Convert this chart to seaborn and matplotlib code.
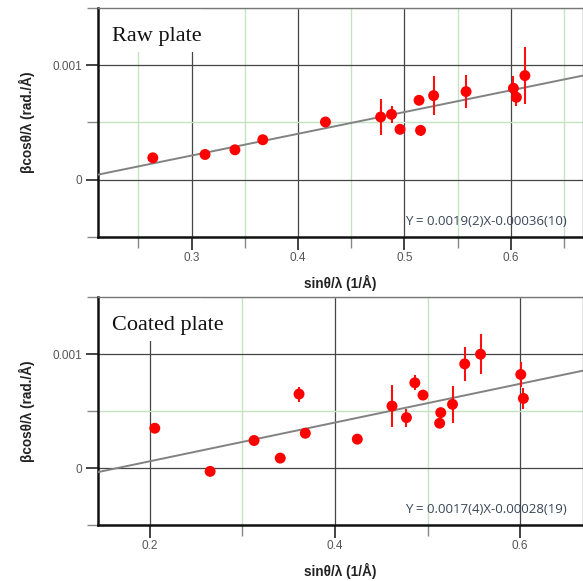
"""Williamson-Hall plots for raw and coated plates"""
import numpy as np
import pandas as pd
import seaborn as sns
import matplotlib.pyplot as plt
from matplotlib.patches import Rectangle
from matplotlib.ticker import MultipleLocator, FixedLocator

# ---- data ----
raw_x = [0.2635, 0.3126, 0.3407, 0.3669, 0.4258, 0.4777, 0.4879, 0.4959,
         0.5138, 0.5152, 0.5275, 0.5580, 0.6025, 0.6053, 0.6133]
raw_y = [0.000190, 0.000219, 0.000260, 0.000348, 0.000503, 0.000547, 0.000570, 0.000439,
         0.000693, 0.000430, 0.000734, 0.000769, 0.000798, 0.000719, 0.000909]
raw_err = [0.00002, 0.00002, 0.00002, 0.00002, 0.00002, 0.000158, 0.000073, 0.00003,
           0.00003, 0.00005, 0.00017, 0.000146, 0.000105, 0.00008, 0.000249]

coat_x = [0.2052, 0.2650, 0.3125, 0.3408, 0.3611, 0.3679, 0.4241, 0.4616, 0.4772,
          0.4863, 0.4951, 0.5131, 0.5143, 0.5270, 0.5402, 0.5573, 0.6008, 0.6036]
coat_y = [0.000350, -0.000029, 0.000242, 0.0000875, 0.000650, 0.000306, 0.000254, 0.000545, 0.000443,
          0.000749, 0.000641, 0.000394, 0.000487, 0.000560, 0.000915, 0.001000, 0.000822, 0.000612]
coat_err = [0.00002, 0.00002, 0.00002, 0.00002, 0.000066, 0.00002, 0.00002, 0.000185, 0.00008,
            0.000065, 0.00003, 0.00003, 0.00003, 0.00016, 0.00015, 0.000175, 0.00011, 0.00009]

titles = ["Raw plate", "Coated plate"]
slopes = [0.0019, 0.0017]
intercepts = [-0.00036, -0.00028]
equations = ["Y = 0.0019(2)X-0.00036(10)", "Y = 0.0017(4)X-0.00028(19)"]
xlims = [(0.2117, 0.6677), (0.1435, 0.6678)]
x_major = [0.1, 0.2]
x_minor = [0.05, 0.1]

sns.set_style("white")
plt.rcParams['font.family'] = ['Liberation Sans', 'DejaVu Sans']

fig = plt.figure(figsize=(5.83, 5.81), dpi=100)
positions = [[0.1676, 0.5926, 0.832, 0.3936], [0.1676, 0.0964, 0.832, 0.3919]]
panels = [(raw_x, raw_y, raw_err), (coat_x, coat_y, coat_err)]

for i, (xs, ys, errs) in enumerate(panels):
    ax = fig.add_axes(positions[i])
    df = pd.DataFrame({'x': xs, 'y': ys, 'err': errs})

    # fit line across the whole x range
    xfit = np.array(xlims[i])
    fit = pd.DataFrame({'x': xfit, 'y': slopes[i] * xfit + intercepts[i]})
    sns.lineplot(data=fit, x='x', y='y', ax=ax, color='#828282', lw=1.4, zorder=3)

    ax.errorbar(df['x'], df['y'], yerr=df['err'], fmt='none', ecolor='#ff1010',
                elinewidth=1.5, capsize=0, zorder=4)
    sns.scatterplot(data=df, x='x', y='y', ax=ax, color='#ff0000', s=62,
                    edgecolor='none', linewidth=0, zorder=5)

    ax.set_xlim(*xlims[i])
    ax.set_ylim(-0.0005, 0.0015)
    ax.xaxis.set_major_locator(MultipleLocator(x_major[i]))
    ax.xaxis.set_minor_locator(MultipleLocator(x_minor[i]))
    ax.yaxis.set_major_locator(FixedLocator([0, 0.001]))
    ax.yaxis.set_minor_locator(FixedLocator([-0.0005, 0.0005, 0.0015]))
    ax.set_yticklabels(['0', '0.001'])
    ax.set_xticklabels([f"{t:.1f}" for t in ax.get_xticks()])

    ax.grid(which='major', color='#454545', lw=0.9, zorder=1)
    ax.grid(which='minor', color='#c6e2c2', lw=1.0, zorder=0)
    ax.set_axisbelow(True)

    ax.tick_params(which='major', direction='out', length=9, width=1.2,
                   color='#222222', labelsize=8.5, labelcolor='#555555', pad=2,
                   left=True, bottom=True)
    ax.tick_params(which='minor', direction='out', length=8, width=1.0,
                   color='#888888', left=True, bottom=True)

    for side in ['left', 'bottom']:
        ax.spines[side].set_color('#111111')
        ax.spines[side].set_linewidth(1.8)
    for side in ['top', 'right']:
        ax.spines[side].set_color('#777777')
        ax.spines[side].set_linewidth(1.0)

    ax.set_xlabel('sinθ/λ (1/Å)', fontsize=9.8, fontweight='bold', color='#222222', labelpad=8)
    ax.set_ylabel('βcosθ/λ (rad./Å)', fontsize=9.8, fontweight='bold', color='#222222', labelpad=13)

    # white label box over the grid
    ax.add_patch(Rectangle((0.005, 0.808), 0.21, 0.19, transform=ax.transAxes,
                           facecolor='white', edgecolor='none', zorder=2))
    ax.text(0.0295, 0.857, titles[i], transform=ax.transAxes, fontsize=16,
            family='Liberation Serif', color='#111111', va='baseline', zorder=6)
    ax.text(0.9676, 0.052, equations[i], transform=ax.transAxes, fontsize=9.5,
            family='Open Sans', color='#3a4658', ha='right', va='baseline', zorder=6)

plt.savefig('out.png', dpi=100)
plt.close()
